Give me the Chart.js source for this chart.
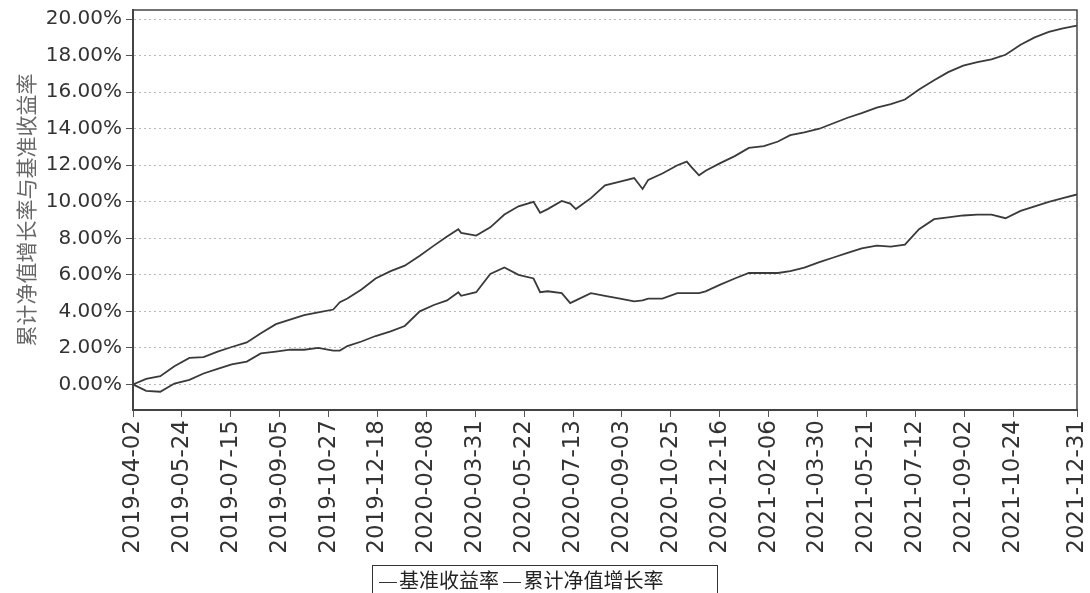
<!DOCTYPE html>
<html>
<head>
<meta charset="utf-8">
<script src="https://cdn.jsdelivr.net/npm/chart.js@4/dist/chart.umd.min.js"></script>
<style>
  html, body { margin: 0; padding: 0; background: #fff; }
  #wrap { position: relative; width: 1090px; height: 593px; }
  #legend {
    position: absolute; left: 372px; top: 565px; width: 346px; height: 30px;
    border: 1.5px solid #333; box-sizing: border-box;
    font: 20px 'Noto Sans CJK SC', sans-serif; color: #222;
    line-height: 28px; padding-left: 6px; white-space: nowrap;
  }
  #legend .mark { display: inline-block; width: 18px; border-top: 1.5px solid #333; vertical-align: middle; margin-right: 2px; }
</style>
</head>
<body>
<div id="wrap">
  <canvas id="chart" width="1090" height="593"></canvas>
  <div id="legend"></div>
</div>
<script>
// --- data ---
const dates = [
  '2019-04-02','2019-04-16','2019-05-01','2019-05-16','2019-06-01','2019-06-16','2019-07-01','2019-07-16',
  '2019-08-01','2019-08-16','2019-09-01','2019-09-16','2019-10-01','2019-10-16','2019-11-01','2019-11-08',
  '2019-11-16','2019-12-01','2019-12-16','2020-01-01','2020-01-16','2020-02-01','2020-02-16','2020-03-01',
  '2020-03-13','2020-03-16','2020-04-01','2020-04-16','2020-05-01','2020-05-16','2020-06-01','2020-06-08',
  '2020-06-16','2020-07-01','2020-07-10','2020-07-16','2020-08-01','2020-08-16','2020-09-01','2020-09-16',
  '2020-09-25','2020-10-01','2020-10-16','2020-11-01','2020-11-11','2020-11-16','2020-11-24','2020-12-01',
  '2020-12-16','2021-01-01','2021-01-16','2021-02-01','2021-02-16','2021-03-01','2021-03-16','2021-04-01',
  '2021-04-16','2021-05-01','2021-05-16','2021-06-01','2021-06-16','2021-07-01','2021-07-16','2021-08-01',
  '2021-08-16','2021-09-01','2021-09-16','2021-10-01','2021-10-16','2021-11-01','2021-11-16','2021-12-01',
  '2021-12-16','2021-12-31'
];

// 累计净值增长率 (upper line)
const navGrowth = [
  0.00, 0.30, 0.45, 1.00, 1.45, 1.50, 1.80, 2.05,
  2.30, 2.80, 3.30, 3.55, 3.80, 3.95, 4.10, 4.50,
  4.70, 5.20, 5.80, 6.20, 6.50, 7.05, 7.60, 8.10,
  8.50, 8.30, 8.15, 8.60, 9.30, 9.75, 10.00, 9.40,
  9.60, 10.05, 9.90, 9.60, 10.20, 10.90, 11.10, 11.30,
  10.70, 11.20, 11.55, 12.00, 12.20, 11.90, 11.45, 11.70,
  12.10, 12.50, 12.95, 13.05, 13.30, 13.65, 13.80, 14.00,
  14.30, 14.60, 14.85, 15.15, 15.35, 15.60, 16.15, 16.65,
  17.10, 17.45, 17.65, 17.80, 18.05, 18.60, 19.00, 19.30,
  19.50, 19.65
];

// 基准收益率 (lower line)
const benchmark = [
  0.00, -0.35, -0.40, 0.05, 0.25, 0.60, 0.85, 1.10,
  1.25, 1.70, 1.80, 1.90, 1.90, 2.00, 1.85, 1.85,
  2.10, 2.35, 2.65, 2.90, 3.20, 4.00, 4.35, 4.60,
  5.05, 4.85, 5.05, 6.05, 6.40, 6.00, 5.80, 5.05,
  5.10, 5.00, 4.45, 4.60, 5.00, 4.85, 4.70, 4.55,
  4.60, 4.70, 4.70, 5.00, 5.00, 5.00, 5.00, 5.10,
  5.45, 5.80, 6.10, 6.10, 6.10, 6.20, 6.40, 6.70,
  6.95, 7.20, 7.45, 7.60, 7.55, 7.65, 8.50, 9.05,
  9.15, 9.25, 9.30, 9.30, 9.10, 9.50, 9.75, 10.00,
  10.20, 10.40
];

const tickDates = [
  '2019-04-02','2019-05-24','2019-07-15','2019-09-05','2019-10-27','2019-12-18','2020-02-08',
  '2020-03-31','2020-05-22','2020-07-13','2020-09-03','2020-10-25','2020-12-16','2021-02-06',
  '2021-03-30','2021-05-21','2021-07-12','2021-09-02','2021-10-24','2021-12-31'
];
const yTicks = [0, 2, 4, 6, 8, 10, 12, 14, 16, 18, 20];

const seriesNames = ['基准收益率', '累计净值增长率'];
const yTitle = '累计净值增长率与基准收益率';

// --- helpers ---
const startDate = Date.UTC(2019, 3, 2);
function dayOf(s) {
  const p = s.split('-').map(Number);
  return Math.round((Date.UTC(p[0], p[1] - 1, p[2]) - startDate) / 86400000);
}
const tickLabelByDay = {};
tickDates.forEach(d => { tickLabelByDay[dayOf(d)] = d; });

const toPoints = vals => dates.map((d, i) => ({ x: dayOf(d), y: vals[i] }));

// legend (html)
document.getElementById('legend').innerHTML =
  seriesNames.map(n => '<span class="mark"></span>' + n).join(' ');

// plot frame around chart area
const framePlugin = {
  id: 'frame',
  afterDraw(chart) {
    const a = chart.chartArea, c = chart.ctx;
    c.save();
    c.strokeStyle = '#444';
    c.lineWidth = 1.5;
    c.strokeRect(a.left, a.top, a.right - a.left, a.bottom - a.top);
    c.restore();
  }
};

const lineColor = '#3a3a3a';

new Chart(document.getElementById('chart'), {
  type: 'line',
  data: {
    datasets: [
      {
        label: seriesNames[0],
        data: toPoints(benchmark),
        borderColor: lineColor,
        borderWidth: 1.8,
        pointRadius: 0,
        fill: false,
        tension: 0
      },
      {
        label: seriesNames[1],
        data: toPoints(navGrowth),
        borderColor: lineColor,
        borderWidth: 1.8,
        pointRadius: 0,
        fill: false,
        tension: 0
      }
    ]
  },
  options: {
    responsive: false,
    animation: false,
    layout: { padding: { left: 0, right: 13, top: 10, bottom: 38 } },
    plugins: {
      legend: { display: false },
      tooltip: { enabled: false }
    },
    scales: {
      x: {
        type: 'linear',
        min: 0,
        max: dayOf(tickDates[tickDates.length - 1]),
        afterBuildTicks: axis => {
          axis.ticks = tickDates.map(d => ({ value: dayOf(d) }));
        },
        afterFit: s => {
          s.height = 145;
          s.paddingLeft = 0;
          s.paddingRight = 0;
        },
        ticks: {
          autoSkip: false,
          maxRotation: 90,
          minRotation: 90,
          color: '#333',
          padding: 3,
          font: { family: 'DejaVu Sans', size: 23 },
          callback: v => tickLabelByDay[v] || ''
        },
        grid: {
          drawOnChartArea: false,
          drawTicks: true,
          tickLength: 7,
          tickColor: '#555'
        },
        border: { color: '#444', width: 2 }
      },
      y: {
        min: -1.4,
        max: 20.5,
        afterBuildTicks: axis => {
          axis.ticks = yTicks.map(v => ({ value: v }));
        },
        afterFit: s => {
          s.width = 133;
          s.paddingTop = 0;
          s.paddingBottom = 0;
        },
        ticks: {
          color: '#333',
          padding: 4,
          font: { family: 'DejaVu Sans', size: 20 },
          callback: v => v.toFixed(2) + '%'
        },
        grid: {
          color: '#b8b8b8',
          lineWidth: 1,
          tickLength: 7,
          tickColor: '#555',
          tickBorderDash: []
        },
        border: { color: '#444', width: 2, dash: [2, 3] },
        title: {
          display: true,
          text: yTitle,
          color: '#666',
          padding: { top: 13, bottom: 0 },
          font: { family: 'Noto Sans CJK SC', size: 21 }
        }
      }
    }
  },
  plugins: [framePlugin]
});
</script>
</body>
</html>
